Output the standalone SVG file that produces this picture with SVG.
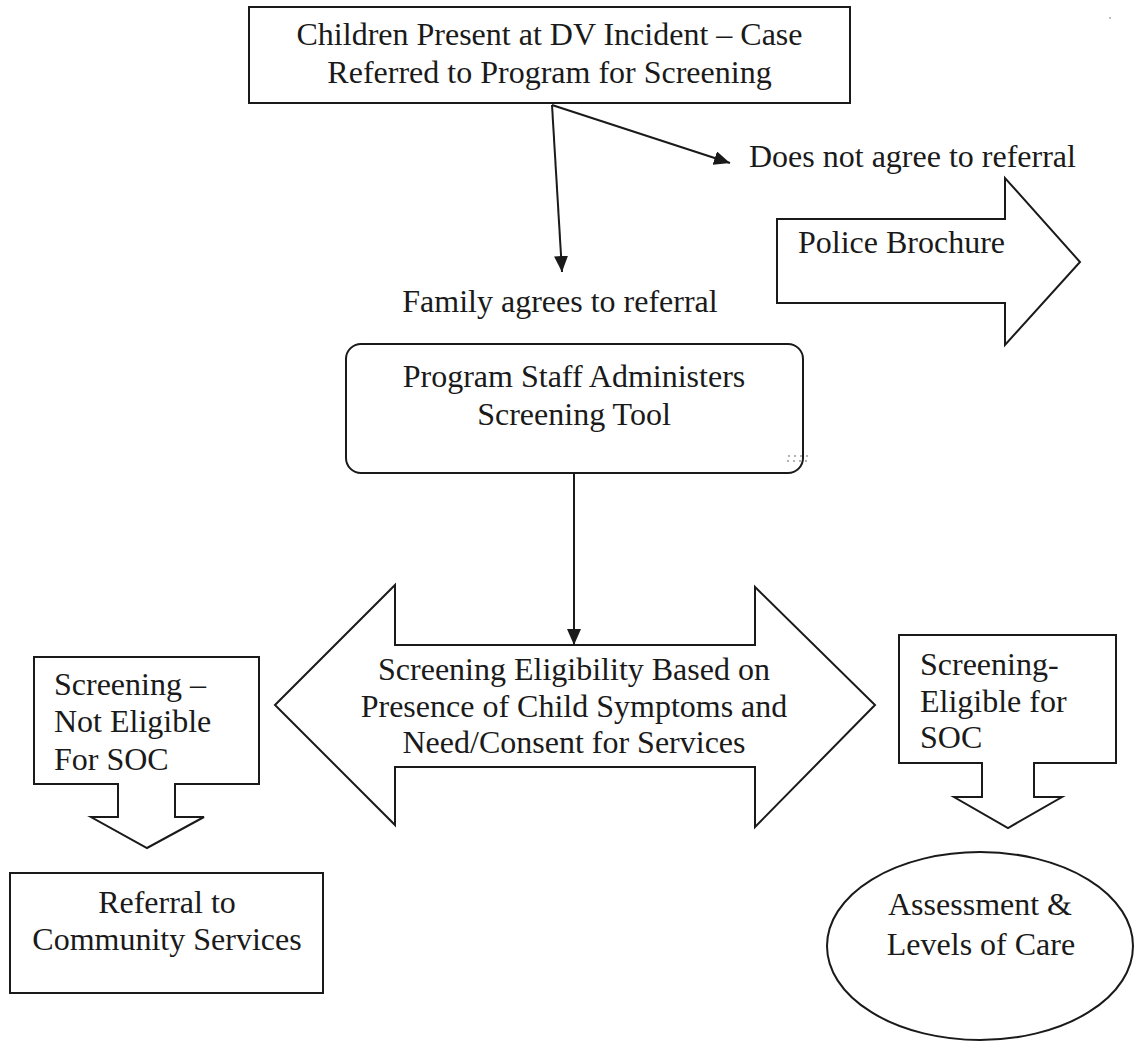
<svg xmlns="http://www.w3.org/2000/svg" width="1135" height="1044" viewBox="0 0 1135 1044">
<defs>
<marker id="ah" markerUnits="userSpaceOnUse" markerWidth="18" markerHeight="14" refX="16" refY="7" orient="auto">
<path d="M0,0 L16,7 L0,14 Z" fill="#1a1a1a"/>
</marker>
</defs>
<style>
.t{font-family:"Liberation Serif","Times New Roman",serif;font-size:32px;fill:#1a1a1a}
.c{text-anchor:middle}
.s{fill:#fff;stroke:#1a1a1a;stroke-width:2;stroke-linejoin:miter}
.ln{stroke:#1a1a1a;stroke-width:2;fill:none}
</style>
<rect width="1135" height="1044" fill="#fff"/>
<g id="start">
<rect class="s" x="249" y="7" width="601" height="96"/>
<text class="t c" x="549.5" y="45">Children Present at DV Incident – Case</text>
<text class="t c" x="549.5" y="83">Referred to Program for Screening</text>
</g>
<g id="label-not-agree">
<text class="t" x="749" y="167">Does not agree to referral</text>
</g>
<g id="police">
<path class="s" d="M777,219 H1005 V178 L1080,262 L1005,345 V303 H777 Z"/>
<text class="t" x="798" y="253">Police Brochure</text>
</g>
<g id="label-agree">
<text class="t c" x="560" y="312">Family agrees to referral</text>
</g>
<g id="screening-tool">
<rect class="s" x="346" y="344" width="457" height="129" rx="15" ry="15"/>
<text class="t c" x="574" y="387">Program Staff Administers</text>
<text class="t c" x="574" y="425">Screening Tool</text>
<g fill="#9a9a9a">
<circle cx="789" cy="456" r="1"/><circle cx="795" cy="456" r="1"/><circle cx="801" cy="456" r="1"/><circle cx="807" cy="456" r="1"/>
<circle cx="788" cy="461" r="1"/><circle cx="794" cy="461" r="1"/><circle cx="800" cy="461" r="1"/><circle cx="806" cy="461" r="1"/>
</g>
</g>
<g id="eligibility">
<path class="s" d="M275,705 L395,585 V645 H755 V587 L875,705 L755,827 V767 H395 V825 Z"/>
<text class="t c" x="574" y="680">Screening Eligibility Based on</text>
<text class="t c" x="574" y="717">Presence of Child Symptoms and</text>
<text class="t c" x="574" y="753">Need/Consent for Services</text>
</g>
<g id="not-eligible">
<path class="s" d="M34,657 H259 V784 H175 V817 H204 L147,848 L91,817 H118 V784 H34 Z"/>
<text class="t" x="54" y="695">Screening –</text>
<text class="t" x="54" y="732">Not Eligible</text>
<text class="t" x="54" y="770">For SOC</text>
</g>
<g id="community">
<rect class="s" x="10" y="873" width="313" height="120"/>
<text class="t c" x="167" y="913">Referral to</text>
<text class="t c" x="167" y="950">Community Services</text>
</g>
<g id="eligible">
<path class="s" d="M899,635 H1116 V763 H1034 V797 H1062 L1008,828 L954,797 H982 V763 H899 Z"/>
<text class="t" x="920" y="675">Screening-</text>
<text class="t" x="920" y="712">Eligible for</text>
<text class="t" x="920" y="748">SOC</text>
</g>
<g id="assessment">
<ellipse class="s" cx="980" cy="946" rx="153" ry="94"/>
<text class="t c" x="980" y="915">Assessment &amp;</text>
<text class="t c" x="981" y="955">Levels of Care</text>
</g>
<g id="connectors">
<line class="ln" x1="552" y1="105" x2="562" y2="272" marker-end="url(#ah)"/>
<line class="ln" x1="552" y1="105" x2="730" y2="163" marker-end="url(#ah)"/>
<line class="ln" x1="574" y1="473" x2="574" y2="645" marker-end="url(#ah)"/>
</g>
<circle cx="1110" cy="18" r="1" fill="#aaa"/>
</svg>
